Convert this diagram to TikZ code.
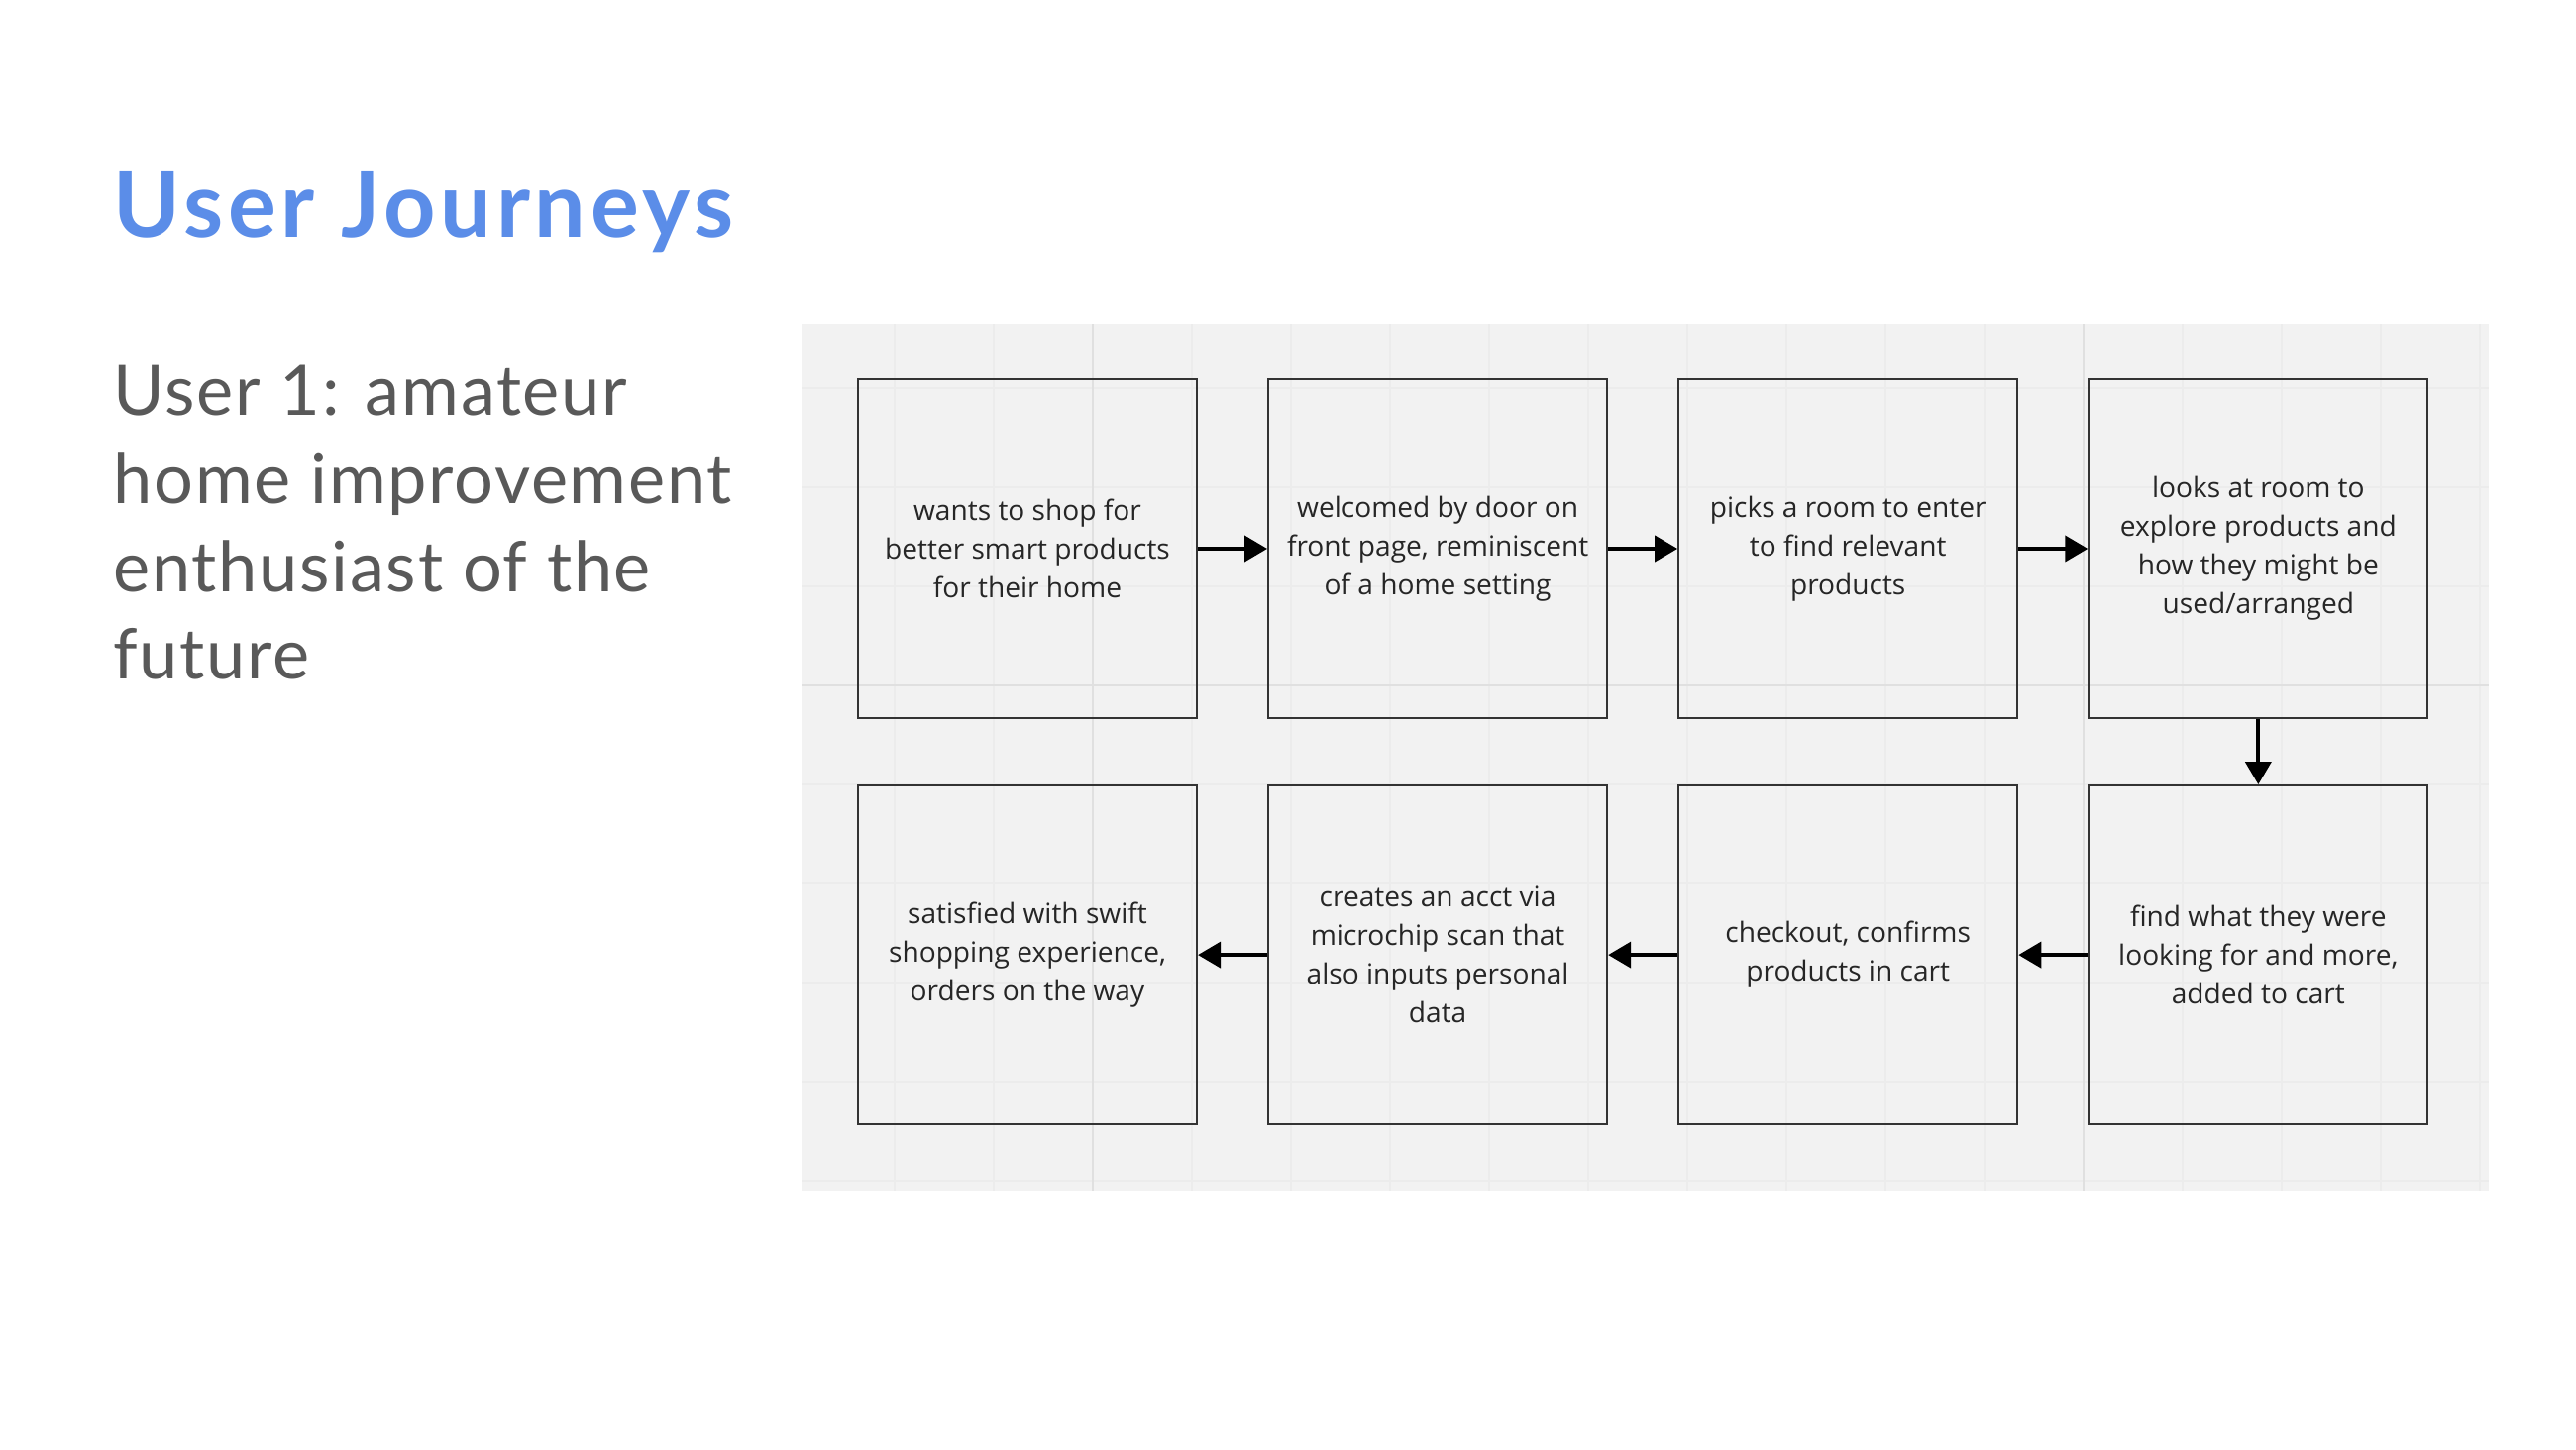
\documentclass[tikz,border=0pt]{standalone}
\usepackage{fontspec}
\setmainfont{Open Sans}
\newfontfamily\headfont{Lato}[LetterSpace=5.2]
\newfontfamily\userfont{Lato}[LetterSpace=2.4]
\usetikzlibrary{positioning,arrows.meta}
\definecolor{titleblue}{HTML}{5B8DE8}
\definecolor{textgray}{HTML}{595959}
\definecolor{boardgray}{HTML}{F2F2F2}
\definecolor{gridminor}{HTML}{ECECEC}
\definecolor{gridmajor}{HTML}{E0E0E0}
\definecolor{boxline}{HTML}{333333}
\tikzset{
  stepbox/.style={draw=boxline, line width=0.6pt, minimum width=3.42cm,
    minimum height=3.42cm, align=center, inner sep=2pt,
    font=\fontsize{8.0}{11.1}\selectfont, text=black!85},
  flow/.style={-{Triangle[length=0.23cm,width=0.26cm]}, line width=1.1pt, black},
}
\begin{document}
\begin{tikzpicture}[node distance=0.66cm and 0.70cm]
  \useasboundingbox (0,0) rectangle (26,14.63);
  \fill[white] (0,0) rectangle (26,14.63);
  % headings
  \node[anchor=base west, inner sep=0, text=titleblue,
    font=\headfont\bfseries\fontsize{26}{30}\selectfont] (title) at (1.14,12.23) {User Journeys};
  \node[anchor=north west, inner sep=0, align=left, text=textgray,
    font=\userfont\fontsize{20}{25.3}\selectfont] (user) at (1.14,10.95)
    {User 1: amateur\\home improvement\\enthusiast of the\\future};
  % board with grid
  \begin{scope}
    \clip (8.09,2.61) rectangle (25.12,11.36);
    \fill[boardgray] (8.09,2.61) rectangle (25.12,11.36);
    \foreach \x in {9.03,10.03,...,25.03}
      \draw[gridminor, line width=0.4pt] (\x,2.61) -- (\x,11.36);
    \foreach \y in {2.71,3.71,...,11.71}
      \draw[gridminor, line width=0.4pt] (8.09,\y) -- (25.12,\y);
    \foreach \x in {11.03,21.03}
      \draw[gridmajor, line width=0.6pt] (\x,2.61) -- (\x,11.36);
    \draw[gridmajor, line width=0.6pt] (8.09,7.71) -- (25.12,7.71);
  \end{scope}
  % top row, left to right
  \node[stepbox] (s1) at (10.37,9.09) {wants to shop for\\better smart products\\for their home};
  \node[stepbox, right=of s1] (s2) {welcomed by door on\\front page, reminiscent\\of a home setting};
  \node[stepbox, right=of s2] (s3) {picks a room to enter\\to find relevant\\products};
  \node[stepbox, right=of s3] (s4) {looks at room to\\explore products and\\how they might be\\used/arranged};
  % bottom row, right to left
  \node[stepbox, below=of s4] (s5) {find what they were\\looking for and more,\\added to cart};
  \node[stepbox, left=of s5] (s6) {checkout, confirms\\products in cart};
  \node[stepbox, left=of s6] (s7) {creates an acct via\\microchip scan that\\also inputs personal\\data};
  \node[stepbox, left=of s7] (s8) {satisfied with swift\\shopping experience,\\orders on the way};
  % arrows
  \draw[flow] (s1) -- (s2);
  \draw[flow] (s2) -- (s3);
  \draw[flow] (s3) -- (s4);
  \draw[flow] (s4) -- (s5);
  \draw[flow] (s5) -- (s6);
  \draw[flow] (s6) -- (s7);
  \draw[flow] (s7) -- (s8);
\end{tikzpicture}
\end{document}
